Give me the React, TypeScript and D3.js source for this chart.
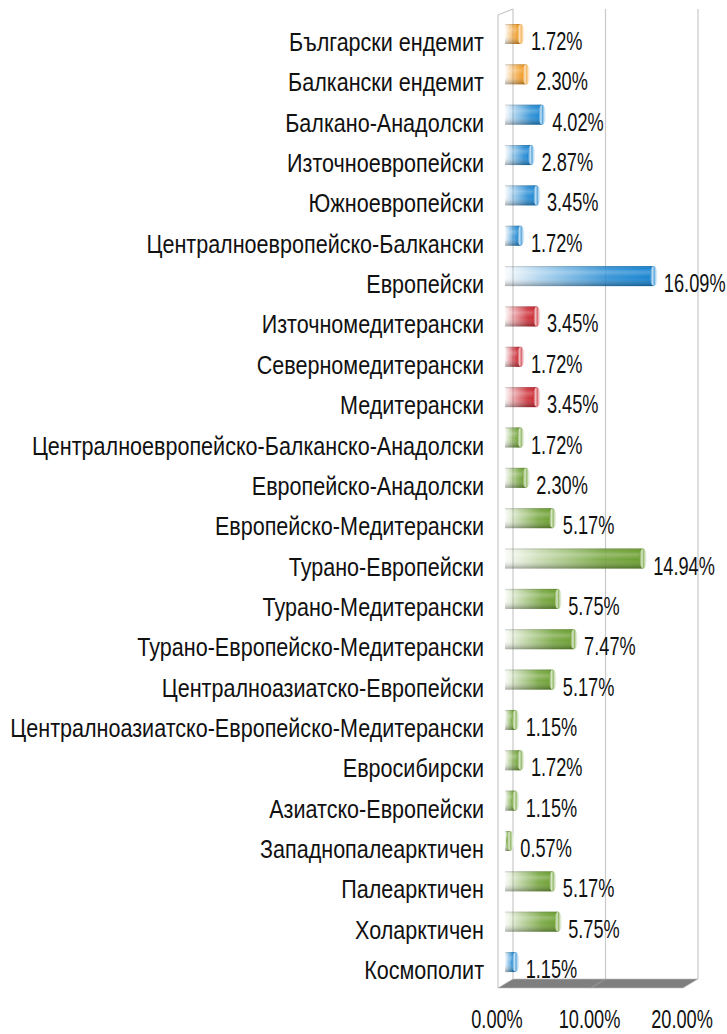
import React from "react";
import * as d3 from "d3";

const categories = [
  "Български ендемит",
  "Балкански ендемит",
  "Балкано-Анадолски",
  "Източноевропейски",
  "Южноевропейски",
  "Централноевропейско-Балкански",
  "Европейски",
  "Източномедитерански",
  "Северномедитерански",
  "Медитерански",
  "Централноевропейско-Балканско-Анадолски",
  "Европейско-Анадолски",
  "Европейско-Медитерански",
  "Турано-Европейски",
  "Турано-Медитерански",
  "Турано-Европейско-Медитерански",
  "Централноазиатско-Европейски",
  "Централноазиатско-Европейско-Медитерански",
  "Евросибирски",
  "Азиатско-Европейски",
  "Западнопалеарктичен",
  "Палеарктичен",
  "Холарктичен",
  "Космополит",
];

const values = [
  1.72, 2.3, 4.02, 2.87, 3.45, 1.72, 16.09, 3.45, 1.72, 3.45, 1.72, 2.3, 5.17,
  14.94, 5.75, 7.47, 5.17, 1.15, 1.72, 1.15, 0.57, 5.17, 5.75, 1.15,
];

const groups = [
  "end", "end", "eu", "eu", "eu", "eu", "eu", "med", "med", "med",
  "wide", "wide", "wide", "wide", "wide", "wide", "wide", "wide", "wide",
  "wide", "wide", "wide", "wide", "eu",
];

const tickValues = [0, 10, 20];

const groupColors: Record<string, string> = {
  end: "#F0961A",
  eu: "#1683D0",
  med: "#C81E28",
  wide: "#6A9E2E",
};

const FONT = "'Liberation Sans', Arial, sans-serif";

export default function App() {
  const W = 727;
  const H = 1034;
  const maxV = 20;
  const xBar = d3.scaleLinear().domain([0, maxV]).range([505, 505 + 185]);
  const xBack = d3.scaleLinear().domain([0, maxV]).range([513, 698]);
  const xFront = d3.scaleLinear().domain([0, maxV]).range([498, 683]);
  const y = d3
    .scalePoint<string>()
    .domain(categories)
    .range([34, 34 + 23 * 40.35]);

  const topBack = 9;
  const topFront = 15;
  const floorBack = 979;
  const floorFront = 988;
  const barH = 20;
  const labelScale = 0.829;
  const numScale = 0.70;

  const groupKeys = Object.keys(groupColors);

  return (
    <svg
      width={W}
      height={H}
      style={{ position: "absolute", left: 0, top: 0, background: "#fff" }}
      fontFamily={FONT}
    >
      <defs>
        {groupKeys.map((k) => {
          const c = groupColors[k];
          const light = d3.interpolateRgb(c, "#ffffff")(0.75);
          return (
            <React.Fragment key={k}>
              <linearGradient id={`h-${k}`} x1="0" x2="1" y1="0" y2="0">
                <stop offset="0" stopColor={c} stopOpacity={0.03} />
                <stop offset="0.25" stopColor={c} stopOpacity={0.35} />
                <stop offset="0.7" stopColor={c} stopOpacity={0.85} />
                <stop offset="1" stopColor={c} stopOpacity={1} />
              </linearGradient>
              <linearGradient id={`cap-${k}`} x1="0" x2="1" y1="0" y2="0">
                <stop offset="0" stopColor={c} />
                <stop offset="0.35" stopColor={light} />
                <stop offset="0.55" stopColor={d3.interpolateRgb(c, "#fff")(0.3)} />
                <stop offset="0.75" stopColor={light} />
                <stop offset="1" stopColor="#ffffff" />
              </linearGradient>
            </React.Fragment>
          );
        })}
        <linearGradient id="vshade" x1="0" x2="0" y1="0" y2="1">
          <stop offset="0" stopColor="#000" stopOpacity={0.25} />
          <stop offset="0.12" stopColor="#fff" stopOpacity={0.0} />
          <stop offset="0.3" stopColor="#fff" stopOpacity={0.25} />
          <stop offset="0.55" stopColor="#fff" stopOpacity={0} />
          <stop offset="1" stopColor="#000" stopOpacity={0.35} />
        </linearGradient>
      </defs>

      {/* walls */}
      <g stroke="#c9c9c9" strokeWidth={1.2} fill="none">
        <line x1={xFront(0)} x2={xFront(0)} y1={topFront} y2={floorFront} />
        <line x1={xFront(0)} x2={xBack(0)} y1={topFront} y2={topBack} />
        {tickValues.map((t) => (
          <line key={t} x1={xBack(t)} x2={xBack(t)} y1={topBack} y2={floorBack} />
        ))}
      </g>

      {/* floor */}
      <polygon
        points={`${xBack(0)},${floorBack} ${xBack(maxV)},${floorBack} ${xFront(maxV)},${floorFront} ${xFront(0)},${floorFront}`}
        fill="#7f7f7f"
        stroke="#bdbdbd"
        strokeWidth={0.6}
      />
      <line
        x1={xBack(10)}
        x2={xFront(10)}
        y1={floorBack}
        y2={floorFront}
        stroke="#9a9a9a"
        strokeWidth={1}
      />

      {/* bars */}
      {categories.map((cat, i) => {
        const v = values[i];
        const k = groups[i];
        const yc = y(cat) as number;
        const x0 = xBar(0);
        const x1 = xBar(v);
        const capRx = 4;
        return (
          <g key={cat}>
            <rect x={x0} y={yc - barH / 2} width={Math.max(0.5, x1 - x0)} height={barH} fill={`url(#h-${k})`} />
            <rect x={x0} y={yc - barH / 2} width={Math.max(0.5, x1 - x0)} height={barH} fill="url(#vshade)" opacity={0.9} />
            <ellipse cx={x1} cy={yc} rx={capRx} ry={barH / 2} fill={`url(#cap-${k})`} />
            <text
              transform={`translate(${x1 + 10},${yc + 16}) scale(${numScale},1)`}
              fontSize={26}
              fill="#111"
            >
              {d3.format(".2f")(v)}%
            </text>
          </g>
        );
      })}

      {/* category labels */}
      {categories.map((cat) => (
        <text
          key={cat}
          transform={`translate(484,${(y(cat) as number) + 17}) scale(${labelScale},1)`}
          textAnchor="end"
          fontSize={26}
          fill="#111"
        >
          {cat}
        </text>
      ))}

      {/* axis labels */}
      {tickValues.map((t) => (
        <text
          key={t}
          transform={`translate(${xFront(t) - 1},1028) scale(${numScale},1)`}
          textAnchor="middle"
          fontSize={26}
          fill="#111"
        >
          {d3.format(".2f")(t)}%
        </text>
      ))}
    </svg>
  );
}
